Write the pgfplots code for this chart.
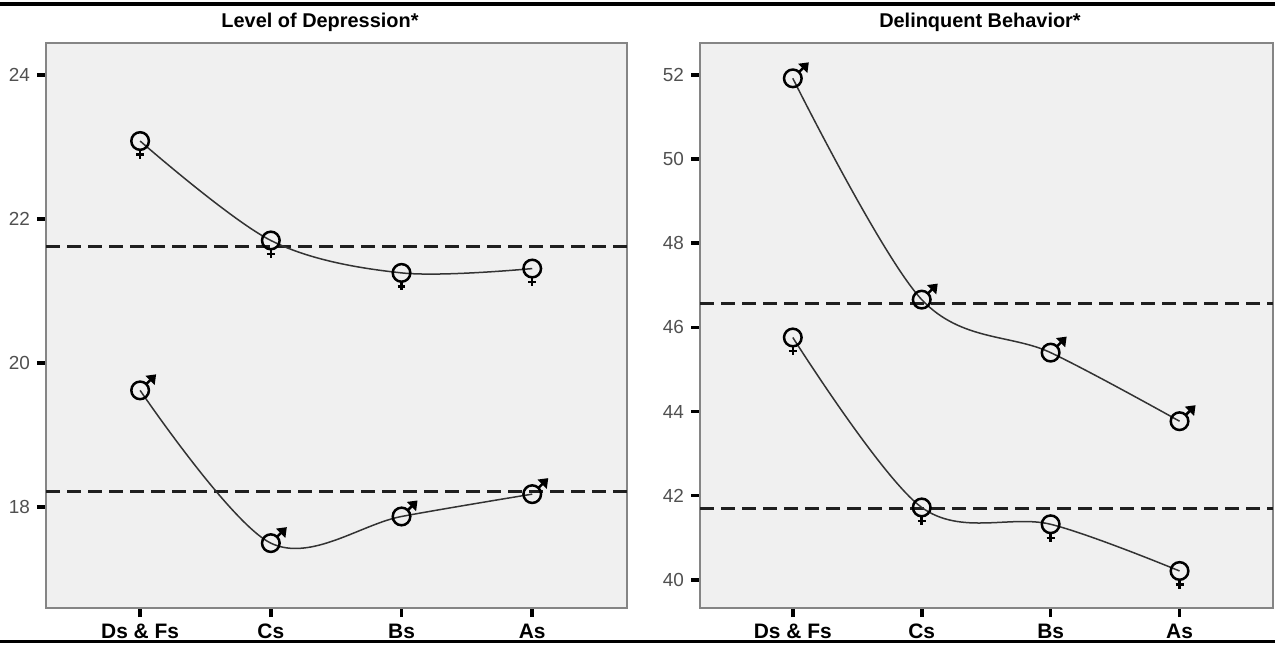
\documentclass[border=0pt]{standalone}
\usepackage{fontspec}
\setmainfont{Liberation Sans}
\usepackage{pgfplots}
\pgfplotsset{compat=1.18}

\definecolor{bgc}{HTML}{F0F0F0}
\definecolor{framec}{HTML}{858585}
\definecolor{tlab}{HTML}{505050}
\definecolor{curvec}{HTML}{333333}

\pgfdeclareplotmark{fem}{%
  \pgfpathcircle{\pgfpointorigin}{\pgfplotmarksize}%
  \pgfusepathqstroke
  \pgfpathmoveto{\pgfpoint{0pt}{-\pgfplotmarksize}}%
  \pgfpathlineto{\pgfpoint{0pt}{-2.0\pgfplotmarksize}}%
  \pgfpathmoveto{\pgfpoint{-0.45\pgfplotmarksize}{-1.55\pgfplotmarksize}}%
  \pgfpathlineto{\pgfpoint{0.45\pgfplotmarksize}{-1.55\pgfplotmarksize}}%
  \pgfusepathqstroke}
\pgfdeclareplotmark{mal}{%
  \pgfpathcircle{\pgfpointorigin}{\pgfplotmarksize}%
  \pgfusepathqstroke
  \pgfpathmoveto{\pgfpoint{0.7\pgfplotmarksize}{0.7\pgfplotmarksize}}%
  \pgfpathlineto{\pgfpoint{1.3\pgfplotmarksize}{1.3\pgfplotmarksize}}%
  \pgfusepathqstroke
  \pgfpathmoveto{\pgfpoint{1.65\pgfplotmarksize}{1.65\pgfplotmarksize}}%
  \pgfpathlineto{\pgfpoint{0.9\pgfplotmarksize}{1.55\pgfplotmarksize}}%
  \pgfpathlineto{\pgfpoint{1.55\pgfplotmarksize}{0.9\pgfplotmarksize}}%
  \pgfpathclose
  \pgfusepathqfillstroke}

\pgfplotsset{
  myax/.style={
    scale only axis,
    anchor=south west,
    axis background/.style={fill=bgc},
    axis line style={framec, line width=0.9bp},
    xmin=-0.72, xmax=3.725,
    xtick={0,1,2,3},
    xticklabels={Ds \& Fs, Cs, Bs, As},
    xtick pos=bottom, ytick pos=left,
    tick align=outside,
    major tick length=4.5bp,
    major tick style={black, line width=1.8bp},
    x tick label style={font=\bfseries\fontsize{10.5}{12}\selectfont, black},
    y tick label style={font=\fontsize{9.5}{10}\selectfont, tlab},
    /pgf/number format/assume math mode=true,
  },
  curv/.style={curvec, line width=0.75bp, smooth, tension=0.55,
    mark options={black, line width=1.25bp, solid}, mark size=4.4bp},
  mean/.style={black!88, line width=1.5bp, dash pattern=on 7bp off 3.5bp},
}

\begin{document}
\begin{tikzpicture}
\useasboundingbox (0,0) rectangle (637.5bp,322.5bp);
\draw[black, line width=1.6bp] (0,320.5bp) -- (637.5bp,320.5bp);
\draw[black, line width=1.6bp] (0,1.8bp) -- (637.5bp,1.8bp);
\node[font=\bfseries\fontsize{10}{11}\selectfont] at (160bp,311.5bp) {Level of Depression*};
\node[font=\bfseries\fontsize{10}{11}\selectfont] at (490bp,311.5bp) {Delinquent Behavior*};

\begin{axis}[myax,
  at={(23bp,18.5bp)}, width=290.5bp, height=282.5bp,
  ymin=16.6, ymax=24.44, ytick={18,20,22,24}]
\addplot[mean] coordinates {(-0.72,21.62) (3.725,21.62)};
\addplot[mean] coordinates {(-0.72,18.22) (3.725,18.22)};
\addplot[curv, mark=fem] coordinates {(0,23.08) (1,21.70) (2,21.25) (3,21.31)};
\addplot[curv, mark=mal] coordinates {(0,19.62) (1,17.50) (2,17.87) (3,18.18)};
\end{axis}

\begin{axis}[myax,
  at={(350bp,18.5bp)}, width=286.5bp, height=282.5bp,
  ymin=39.33, ymax=52.76, ytick={40,42,44,46,48,50,52}]
\addplot[mean] coordinates {(-0.72,46.56) (3.725,46.56)};
\addplot[mean] coordinates {(-0.72,41.70) (3.725,41.70)};
\addplot[curv, mark=mal] coordinates {(0,51.92) (1,46.66) (2,45.40) (3,43.77)};
\addplot[curv, mark=fem] coordinates {(0,45.76) (1,41.72) (2,41.32) (3,40.21)};
\end{axis}
\end{tikzpicture}
\end{document}
